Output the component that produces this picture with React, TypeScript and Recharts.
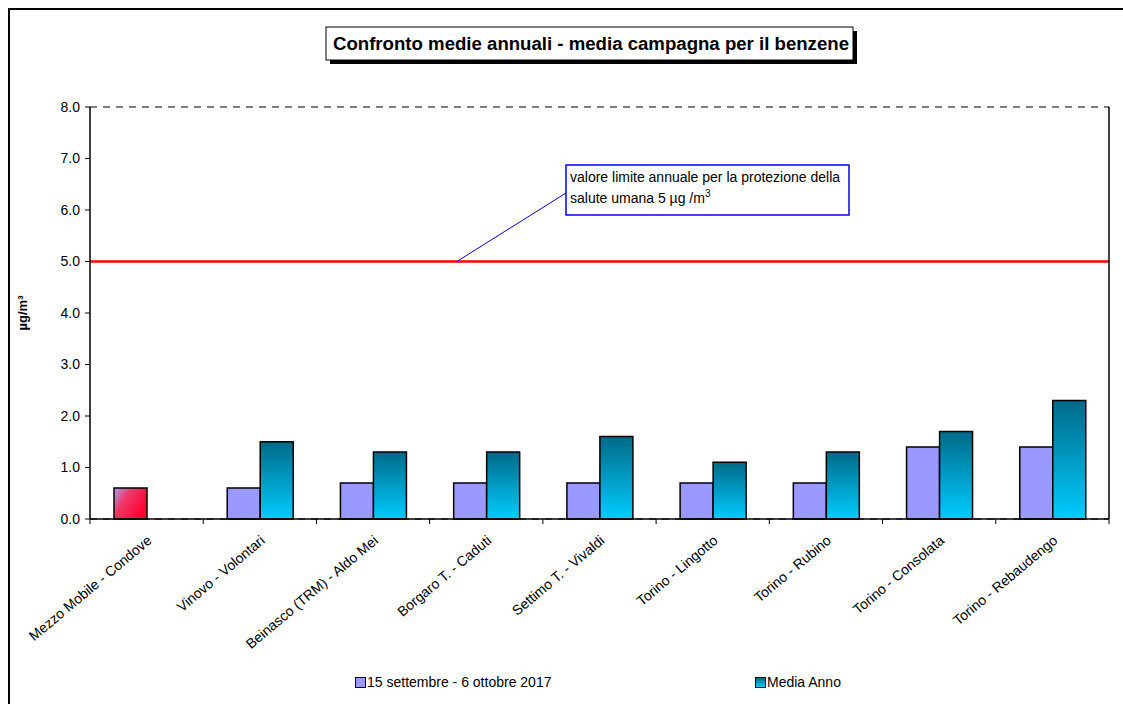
import React from "react";
import {
  ComposedChart,
  Bar,
  XAxis,
  YAxis,
  CartesianGrid,
  ReferenceLine,
  Cell,
} from "recharts";

const categories = [
  "Mezzo Mobile - Condove",
  "Vinovo - Volontari",
  "Beinasco (TRM) - Aldo Mei",
  "Borgaro T. - Caduti",
  "Settimo T. - Vivaldi",
  "Torino - Lingotto",
  "Torino - Rubino",
  "Torino - Consolata",
  "Torino - Rebaudengo",
];
const campagna = [0.6, 0.6, 0.7, 0.7, 0.7, 0.7, 0.7, 1.4, 1.4];
const mediaAnno = [null, 1.5, 1.3, 1.3, 1.6, 1.1, 1.3, 1.7, 2.3];
const yTicks = [0, 1, 2, 3, 4, 5, 6, 7, 8];
const limitValue = 5;
const seriesNames = ["15 settembre - 6 ottobre 2017", "Media Anno"];

const data = categories.map((c, i) => ({
  name: c,
  campagna: campagna[i],
  media: mediaAnno[i],
}));

const FONT = "'Liberation Sans', Arial, sans-serif";
const W = 1123;
const H = 704;
const PLOT_LEFT = 90;
const PLOT_RIGHT = 1109;
const BAND = (PLOT_RIGHT - PLOT_LEFT) / categories.length;

const XTick = (props: any) => {
  const { x, y, payload, index } = props;
  const isLast = index === categories.length - 1;
  const tx = x + 6;
  const ty = y + 15;
  return (
    <g>
      <line x1={x - BAND / 2} y1={y - 8} x2={x - BAND / 2} y2={y - 3} stroke="#000" strokeWidth={1} />
      {isLast && (
        <line x1={x + BAND / 2} y1={y - 8} x2={x + BAND / 2} y2={y - 3} stroke="#000" strokeWidth={1} />
      )}
      <text
        x={tx}
        y={ty}
        textAnchor="end"
        transform={`rotate(-40, ${tx}, ${ty})`}
        fontSize={14}
        fontFamily={FONT}
        fill="#000"
      >
        {payload.value}
      </text>
    </g>
  );
};

const LegendBlock = () => (
  <div style={{ position: "absolute", left: 0, top: 674, width: W, height: 20, fontFamily: FONT, fontSize: 14 }}>
    <div style={{ position: "absolute", left: 355, top: 3, width: 9, height: 9, background: "#9999ff", border: "1px solid #000" }} />
    <div style={{ position: "absolute", left: 367, top: 0, whiteSpace: "nowrap" }}>{seriesNames[0]}</div>
    <div
      style={{
        position: "absolute",
        left: 755,
        top: 3,
        width: 9,
        height: 9,
        background: "linear-gradient(#006a88, #00ccff)",
        border: "1px solid #000",
      }}
    />
    <div style={{ position: "absolute", left: 767, top: 0, whiteSpace: "nowrap" }}>{seriesNames[1]}</div>
  </div>
);

export default function App() {
  return (
    <div style={{ position: "absolute", left: 0, top: 0, width: W, height: H, background: "#fff", overflow: "hidden" }}>
      <div
        style={{
          position: "absolute",
          left: 8,
          top: 8,
          width: W + 20,
          height: H + 20,
          borderLeft: "2px solid #000",
          borderTop: "2px solid #000",
          boxSizing: "border-box",
        }}
      />
      <ComposedChart
        width={W}
        height={H}
        data={data}
        margin={{ top: 107, right: 0, left: 0, bottom: 0 }}
        barGap={0}
        style={{ position: "absolute", left: 0, top: 0 }}
      >
        <defs>
          <linearGradient id="tealGrad" x1="0" y1="0" x2="0" y2="1">
            <stop offset="0%" stopColor="#006a88" />
            <stop offset="100%" stopColor="#00ccff" />
          </linearGradient>
          <linearGradient id="redGrad" x1="0" y1="0" x2="1" y2="0.6">
            <stop offset="0%" stopColor="#a8a0f0" />
            <stop offset="40%" stopColor="#f03868" />
            <stop offset="100%" stopColor="#ff0030" />
          </linearGradient>
        </defs>
        <CartesianGrid vertical={false} horizontal stroke="#000" strokeDasharray="7 6" strokeWidth={1} />
        <XAxis
          dataKey="name"
          height={185}
          interval={0}
          tickLine={false}
          axisLine={{ stroke: "#000", strokeWidth: 1.5 }}
          tick={<XTick />}
        />
        <YAxis
          yAxisId="left"
          width={PLOT_LEFT}
          domain={[0, 8]}
          ticks={yTicks}
          tickFormatter={(v: number) => v.toFixed(1)}
          tick={{ fontSize: 14, fontFamily: FONT, fill: "#000" }}
          tickLine={{ stroke: "#000" }}
          tickSize={5}
          tickMargin={5}
          axisLine={{ stroke: "#000", strokeWidth: 1.5 }}
          label={{
            value: "µg/m³",
            angle: -90,
            position: "insideLeft",
            offset: 22,
            style: { fontSize: 13, fontWeight: "bold", fontFamily: FONT, fill: "#000", textAnchor: "middle" },
          }}
        />
        <YAxis
          yAxisId="right"
          orientation="right"
          width={W - PLOT_RIGHT}
          domain={[0, 8]}
          tick={false}
          tickLine={false}
          axisLine={{ stroke: "#000", strokeWidth: 1.5 }}
        />
        <ReferenceLine yAxisId="left" y={limitValue} stroke="#ff0000" strokeWidth={2.5} />
        <Bar
          yAxisId="left"
          dataKey="campagna"
          name={seriesNames[0]}
          barSize={33}
          fill="#9999ff"
          stroke="#000"
          strokeWidth={1.5}
          isAnimationActive={false}
        >
          {data.map((d, i) => (
            <Cell key={i} fill={i === 0 ? "url(#redGrad)" : "#9999ff"} />
          ))}
        </Bar>
        <Bar
          yAxisId="left"
          dataKey="media"
          name={seriesNames[1]}
          barSize={33}
          fill="url(#tealGrad)"
          stroke="#000"
          strokeWidth={1.5}
          isAnimationActive={false}
        />
      </ComposedChart>
      <LegendBlock />
      <svg width={W} height={H} style={{ position: "absolute", left: 0, top: 0, pointerEvents: "none" }}>
        <rect x={330} y={31} width={527} height={33} fill="#000" />
        <rect x={326} y={27} width={527} height={33} fill="#fff" stroke="#000" strokeWidth={1} />
        <text
          x={333}
          y={50}
          textLength={516}
          lengthAdjust="spacingAndGlyphs"
          fontSize={18}
          fontWeight="bold"
          fontFamily={FONT}
          fill="#000"
        >
          Confronto medie annuali - media campagna per il benzene
        </text>
        <line x1={456} y1={262} x2={566} y2={193} stroke="#0000ff" strokeWidth={1} />
        <rect x={566} y={165} width={283} height={50} fill="#fff" stroke="#0000ff" strokeWidth={1.5} />
        <text x={570} y={182} fontSize={14} fontFamily={FONT} fill="#000">
          valore limite annuale per la protezione della
        </text>
        <text x={570} y={203} fontSize={14} fontFamily={FONT} fill="#000">
          salute umana 5 µg /m
          <tspan dy={-6} fontSize={10}>3</tspan>
        </text>
      </svg>
    </div>
  );
}
